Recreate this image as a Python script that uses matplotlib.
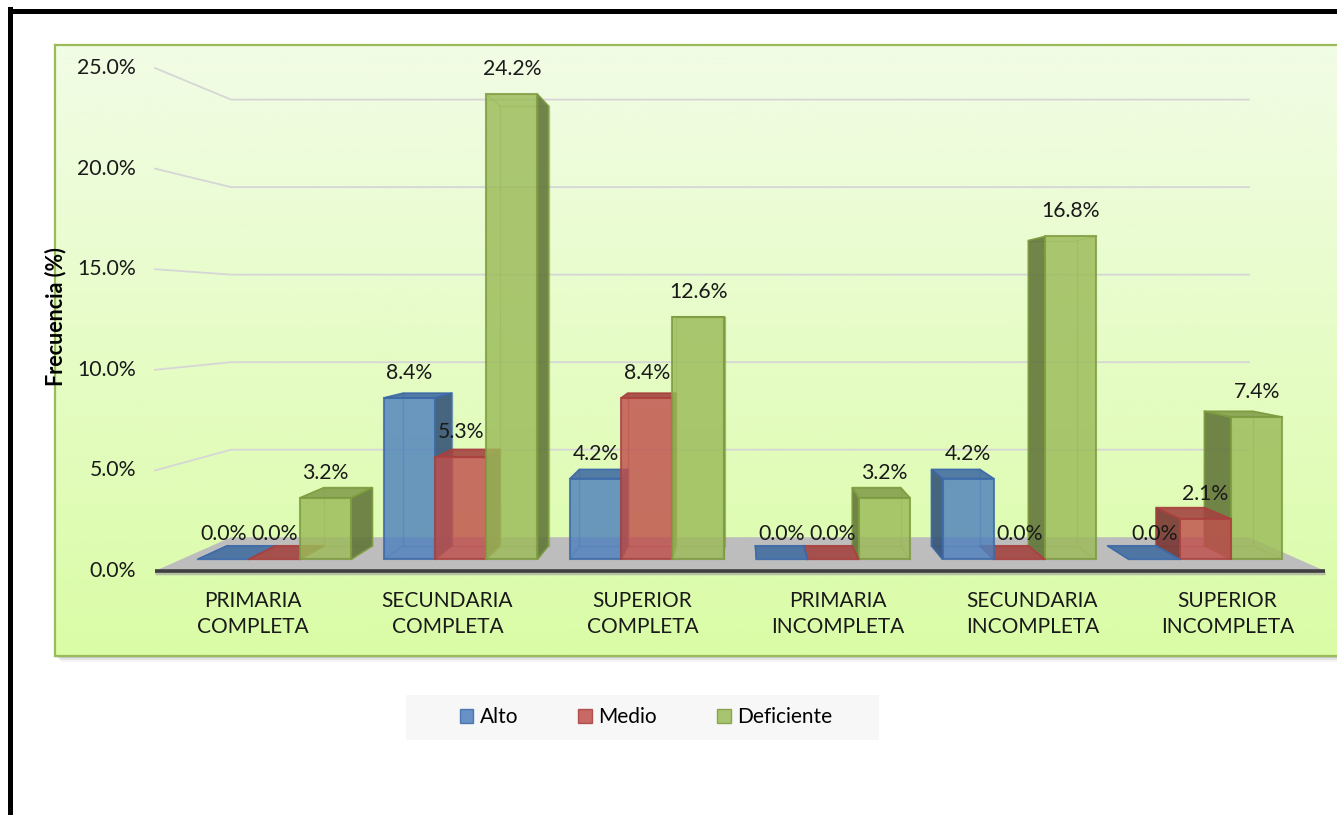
import matplotlib.pyplot as plt
import matplotlib.colors as mcolors
from matplotlib.patches import Polygon, Rectangle, Patch
from matplotlib.lines import Line2D
import numpy as np

plt.rcParams['font.family'] = ['Lato', 'DejaVu Sans']

categorias = ['PRIMARIA\nCOMPLETA', 'SECUNDARIA\nCOMPLETA', 'SUPERIOR\nCOMPLETA',
              'PRIMARIA\nINCOMPLETA', 'SECUNDARIA\nINCOMPLETA', 'SUPERIOR\nINCOMPLETA']
series = ['Alto', 'Medio', 'Deficiente']
alto = [0.0, 8.4, 4.2, 0.0, 4.2, 0.0]
medio = [0.0, 5.3, 8.4, 0.0, 0.0, 2.1]
deficiente = [3.2, 24.2, 12.6, 3.2, 16.8, 7.4]
yticks = [0, 5, 10, 15, 20, 25]

colores = ['#4F81BD', '#C0504D', '#9BBB59']
bordes = ['#3C6AA8', '#A9413E', '#7D9B3F']
valores = [alto, medio, deficiente]

W, H = 1337, 815
# escala del plano frontal (px por categoria, px por punto porcentual)
x0_px, ux = 155, 195.0
y0_px, uy = 571, 20.12
# punto de fuga y profundidades relativas
uc, vh = 3.0, 12.92
kf, kb, kw = 0.955, 0.903, 0.87
bw = 0.275


def proj(u, v, k):
    return (uc + (u - uc) * k, vh + (v - vh) * k)


def oscurecer(c, f):
    r, g, b = mcolors.to_rgb(c)
    return (r * f, g * f, b * f)


fig = plt.figure(figsize=(W / 100, H / 100), dpi=100)

# fondo del area de trazado con degradado
bx, by, bx1, by1 = 55, 45, W + 10, 656
for d, a in [(2, 0.25), (4, 0.15), (6, 0.07)]:
    fig.add_artist(Rectangle(((bx + d) / W, 1 - (by1 + d) / H), (bx1 - bx) / W, (by1 - by) / H,
                             transform=fig.transFigure, facecolor='#7F7F7F', edgecolor='none',
                             alpha=a, zorder=0))
ax_bg = fig.add_axes([bx / W, 1 - by1 / H, (bx1 - bx) / W, (by1 - by) / H], zorder=0.5)
top_c = np.array(mcolors.to_rgb('#F2FCE6'))
bot_c = np.array(mcolors.to_rgb('#DAFCA6'))
t = np.linspace(0, 1, 256)[:, None, None]
grad = top_c * (1 - t) + bot_c * t
ax_bg.imshow(np.repeat(grad, 2, axis=1), aspect='auto', extent=[0, 1, 0, 1])
ax_bg.set_xticks([])
ax_bg.set_yticks([])
for s in ax_bg.spines.values():
    s.set_color('#9BBB59')
    s.set_linewidth(1.6)

ax = fig.add_axes([0, 0, 1, 1], zorder=1)
ax.set_xlim(-x0_px / ux, (W - x0_px) / ux)
ax.set_ylim((y0_px - H) / uy, y0_px / uy)
ax.axis('off')
ax.patch.set_alpha(0)

# lineas de division: pared lateral y pared del fondo
for tv in yticks[1:]:
    pts = [proj(0, tv, 1), proj(0, tv, kw), proj(6, tv, kw)]
    ax.plot([p[0] for p in pts], [p[1] for p in pts], color='#D6D6D6', lw=1.3, zorder=2)

# piso
piso = [proj(0, 0, 1), proj(6, 0, 1), proj(6, 0, kw), proj(0, 0, kw)]
ax.add_patch(Polygon(piso, closed=True, facecolor='#BDBDBD', edgecolor='none', zorder=3))
a, b = proj(0, 0, 1), proj(6, 0, 1)
ax.plot([a[0], b[0]], [a[1] - 0.12, b[1] - 0.12], color='#9A9A9A', lw=2.5, alpha=0.6,
        zorder=4, solid_capstyle='butt')
ax.plot([a[0], b[0]], [a[1], b[1]], color='#3F3F3F', lw=2.6, zorder=4, solid_capstyle='butt')

# etiquetas del eje de valores
for tv in yticks:
    ax.annotate(f'{tv:.1f}%', xy=proj(0, tv, 1), xytext=(-13.7, 0), textcoords='offset points',
                ha='right', va='center', fontsize=15.3, color='#1A1A1A')

# etiquetas de categorias
for i, cat in enumerate(categorias):
    ax.annotate(cat, xy=proj(i + 0.5, 0, 1), xytext=(0, -31), textcoords='offset points',
                ha='center', va='center', fontsize=15, linespacing=1.35, color='#1A1A1A')


def caja(u0, u1, v, j, z):
    c, e = colores[j], bordes[j]
    P = lambda pts: [proj(*p) for p in pts]
    # aristas ocultas vistas a traves de las caras
    fondo = P([(u0, 0, kb), (u1, 0, kb), (u1, v, kb), (u0, v, kb), (u0, 0, kb)])
    ax.plot([p[0] for p in fondo], [p[1] for p in fondo], color=e, lw=1.0, alpha=0.45, zorder=z)
    for uu in (u0, u1):
        for vv in (0, v):
            p, q = proj(uu, vv, kf), proj(uu, vv, kb)
            ax.plot([p[0], q[0]], [p[1], q[1]], color=e, lw=1.0, alpha=0.45, zorder=z)
    if u1 <= uc:
        lado = P([(u1, 0, kf), (u1, 0, kb), (u1, v, kb), (u1, v, kf)])
    elif u0 >= uc:
        lado = P([(u0, 0, kf), (u0, 0, kb), (u0, v, kb), (u0, v, kf)])
    else:
        lado = None
    if lado is not None and v > 0:
        ax.add_patch(Polygon(lado, closed=True, facecolor=oscurecer(c, 0.62), edgecolor=e,
                             lw=1.2, alpha=0.88, zorder=z + 0.1))
    if v < vh:
        tapa = P([(u0, v, kf), (u1, v, kf), (u1, v, kb), (u0, v, kb)])
        ax.add_patch(Polygon(tapa, closed=True, facecolor=oscurecer(c, 0.85), edgecolor=e,
                             lw=1.2, alpha=0.9, zorder=z + 0.2))
    if v > 0:
        frente = P([(u0, 0, kf), (u1, 0, kf), (u1, v, kf), (u0, v, kf)])
        ax.add_patch(Polygon(frente, closed=True, facecolor=c, edgecolor=e, lw=1.5,
                             alpha=0.82, zorder=z + 0.3))


z = 5
for i in range(len(categorias)):
    centro = i + 0.5
    orden = [0, 1, 2] if centro < uc else [2, 1, 0]
    for j in orden:
        u0 = centro - 1.5 * bw + j * bw
        caja(u0, u0 + bw, valores[j][i], j, z)
        z += 1

# etiquetas de datos
for i in range(len(categorias)):
    for j in range(3):
        v = valores[j][i]
        u0 = i + 0.5 - 1.5 * bw + j * bw
        ax.annotate(f'{v:.1f}%', xy=proj(u0 + bw / 2, v, kf), xytext=(0, 18),
                    textcoords='offset points', ha='center', va='center',
                    fontsize=15.3, color='#1A1A1A', zorder=100)

fig.text(56 / W, 1 - 317 / H, 'Frecuencia (%)', rotation=90, fontweight='bold',
         ha='center', va='center', fontsize=15.5, zorder=10)

# leyenda
fig.add_artist(Rectangle((406 / W, 1 - 740 / H), 473 / W, 45 / H, transform=fig.transFigure,
                         facecolor='#F7F7F7', edgecolor='none', zorder=2))
handles = [Patch(facecolor=colores[j], edgecolor=bordes[j], alpha=0.85, label=series[j])
           for j in range(3)]
leg = fig.legend(handles=handles, loc='center', bbox_to_anchor=(646 / W, 1 - 717 / H),
                 ncol=3, frameon=False, fontsize=15, handlelength=0.65, handleheight=0.65,
                 handletextpad=0.3, columnspacing=2.9)
leg.set_zorder(3)

# marco exterior
fig.add_artist(Line2D([10 / W, 10 / W], [0, 1 - 8.5 / H], transform=fig.transFigure,
                      color='black', lw=3.6, solid_capstyle='projecting', zorder=20))
fig.add_artist(Line2D([10 / W, 1], [1 - 11 / H, 1 - 11 / H], transform=fig.transFigure,
                      color='black', lw=3.6, solid_capstyle='projecting', zorder=20))

fig.savefig('out.png', dpi=100, facecolor='white')
